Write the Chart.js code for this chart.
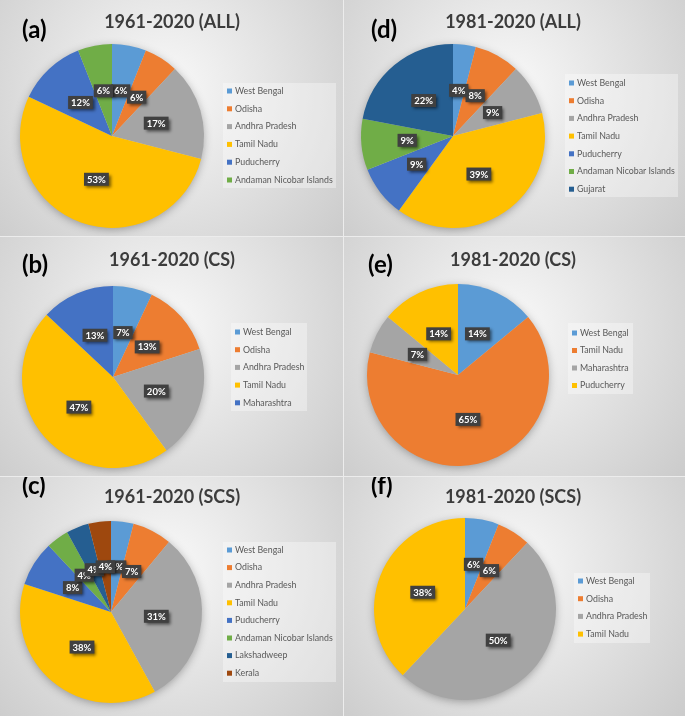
<!DOCTYPE html>
<html>
<head>
<meta charset="utf-8">
<script src="https://cdn.jsdelivr.net/npm/chart.js@4.4.1/dist/chart.umd.min.js"></script>
<style>
  html, body { margin: 0; padding: 0; background: #ffffff; }
  #wrap { position: relative; width: 685px; height: 716px; overflow: hidden; background: #ececec; }
  .panel { position: absolute; }
  canvas { display: block; }
</style>
</head>
<body>
<div id="wrap">
  <div class="panel" style="left:0;top:0"><canvas id="pA" width="343" height="236"></canvas></div>
  <div class="panel" style="left:344px;top:0"><canvas id="pD" width="341" height="236"></canvas></div>
  <div class="panel" style="left:0;top:237px"><canvas id="pB" width="343" height="239"></canvas></div>
  <div class="panel" style="left:344px;top:237px"><canvas id="pE" width="341" height="239"></canvas></div>
  <div class="panel" style="left:0;top:477px"><canvas id="pC" width="343" height="239"></canvas></div>
  <div class="panel" style="left:344px;top:477px"><canvas id="pF" width="341" height="239"></canvas></div>
</div>
<script>
// Palette Excel par défaut (ordre des séries)
const palette = ["#5B9BD5", "#ED7D31", "#A5A5A5", "#FFC000", "#4472C4", "#70AD47", "#255E91", "#9E480E"];

// --- DONNÉES ---
// (a) 1961-2020 (ALL)
const labelsA = ["West Bengal", "Odisha", "Andhra Pradesh", "Tamil Nadu", "Puducherry", "Andaman Nicobar Islands"];
const valuesA = [6, 6, 17, 53, 12, 6];
// (b) 1961-2020 (CS)
const labelsB = ["West Bengal", "Odisha", "Andhra Pradesh", "Tamil Nadu", "Maharashtra"];
const valuesB = [7, 13, 20, 47, 13];
// (c) 1961-2020 (SCS)
const labelsC = ["West Bengal", "Odisha", "Andhra Pradesh", "Tamil Nadu", "Puducherry", "Andaman Nicobar Islands", "Lakshadweep", "Kerala"];
const valuesC = [4, 7, 31, 38, 8, 4, 4, 4];
// (d) 1981-2020 (ALL)
const labelsD = ["West Bengal", "Odisha", "Andhra Pradesh", "Tamil Nadu", "Puducherry", "Andaman Nicobar Islands", "Gujarat"];
const valuesD = [4, 8, 9, 39, 9, 9, 22];
// (e) 1981-2020 (CS)
const labelsE = ["West Bengal", "Tamil Nadu", "Maharashtra", "Puducherry"];
const valuesE = [14, 65, 7, 14];
// (f) 1981-2020 (SCS)
const labelsF = ["West Bengal", "Odisha", "Andhra Pradesh", "Tamil Nadu"];
const valuesF = [6, 6, 50, 38];

// Plugin : fond dégradé, titre, étiquette (a)..(f), légende, étiquettes de valeurs
const panelPlugin = {
  id: "panel",
  beforeDraw(chart, args, o) {
    const ctx = chart.ctx, w = chart.width, h = chart.height;
    ctx.save();
    const g = ctx.createRadialGradient(w * 0.48, h * 0.38, 5, w * 0.48, h * 0.38, w * 0.72);
    g.addColorStop(0, "#f8f8f8");
    g.addColorStop(1, "#c8c8c8");
    ctx.fillStyle = g;
    ctx.fillRect(0, 0, w, h);
    // titre
    ctx.fillStyle = "#3c3c3c";
    ctx.font = "bold 18px Lato";
    ctx.textAlign = "center";
    ctx.textBaseline = "middle";
    ctx.fillText(o.title, o.titleX, o.titleY);
    // tag
    ctx.fillStyle = "#000000";
    ctx.font = "bold 24px Lato";
    ctx.textAlign = "left";
    ctx.fillText(o.tag, o.tagX, o.tagY);
    ctx.restore();
  },
  beforeDatasetsDraw(chart) {
    // ombre douce sous le camembert
    const arc = chart.getDatasetMeta(0).data[0];
    if (!arc) return;
    const ctx = chart.ctx;
    ctx.save();
    ctx.shadowColor = "rgba(0,0,0,0.35)";
    ctx.shadowBlur = 10;
    ctx.shadowOffsetY = 2;
    ctx.fillStyle = "#cccccc";
    ctx.beginPath();
    ctx.arc(arc.x, arc.y, arc.outerRadius - 1, 0, Math.PI * 2);
    ctx.fill();
    ctx.restore();
  },
  afterDatasetsDraw(chart) {
    const ctx = chart.ctx;
    const ds = chart.data.datasets[0];
    ctx.save();
    ctx.font = "bold 9.5px Lato";
    ctx.textAlign = "center";
    ctx.textBaseline = "middle";
    chart.getDatasetMeta(0).data.forEach((arc, i) => {
      const p = arc.tooltipPosition();
      const txt = ds.data[i] + "%";
      const tw = ctx.measureText(txt).width + 6;
      ctx.shadowColor = "rgba(0,0,0,0.55)";
      ctx.shadowBlur = 3;
      ctx.shadowOffsetX = 2;
      ctx.shadowOffsetY = 2;
      ctx.fillStyle = "#404040";
      ctx.fillRect(p.x - tw / 2, p.y - 6.5, tw, 13);
      ctx.shadowColor = "transparent";
      ctx.fillStyle = "#ffffff";
      ctx.fillText(txt, p.x, p.y + 0.5);
    });
    ctx.restore();
  },
  afterDraw(chart, args, o) {
    const ctx = chart.ctx;
    const L = o.legend;
    const ds = chart.data.datasets[0];
    ctx.save();
    ctx.fillStyle = "rgba(255,255,255,0.35)";
    ctx.fillRect(L.x, L.y, L.w, L.h);
    ctx.font = "8.8px Lato";
    ctx.textAlign = "left";
    ctx.textBaseline = "middle";
    chart.data.labels.forEach((lab, i) => {
      const y = L.y0 + i * L.step;
      ctx.fillStyle = ds.backgroundColor[i];
      ctx.fillRect(L.x + 4, y - 2.5, 5, 5);
      ctx.fillStyle = "#595959";
      ctx.fillText(lab, L.x + 12, y);
    });
    ctx.restore();
  },
};

function createPie(canvasId, labels, values, panel) {
  const canvas = document.getElementById(canvasId);
  const W = canvas.width, H = canvas.height;
  new Chart(canvas.getContext("2d"), {
    type: "pie",
    data: {
      labels: labels,
      datasets: [{
        data: values,
        backgroundColor: palette.slice(0, values.length),
        borderWidth: 0,
      }],
    },
    options: {
      responsive: false,
      animation: false,
      layout: {
        padding: {
          left: panel.cx - panel.r,
          top: panel.cy - panel.r,
          right: W - panel.cx - panel.r,
          bottom: H - panel.cy - panel.r,
        },
      },
      plugins: {
        legend: { display: false },
        tooltip: { enabled: false },
        panel: panel,
      },
    },
    plugins: [panelPlugin],
  });
}

createPie("pA", labelsA, valuesA, {
  cx: 112, cy: 136, r: 92, title: "1961-2020 (ALL)", titleX: 172, titleY: 22, tag: "(a)", tagX: 22, tagY: 30,
  legend: { x: 223, y: 83, w: 113, h: 105, y0: 91, step: 17.8 },
});
createPie("pD", labelsD, valuesD, {
  cx: 109, cy: 136, r: 92, title: "1981-2020 (ALL)", titleX: 169, titleY: 22, tag: "(d)", tagX: 27, tagY: 30,
  legend: { x: 221, y: 74, w: 113, h: 123, y0: 83, step: 17.7 },
});
createPie("pB", labelsB, valuesB, {
  cx: 113, cy: 140, r: 91, title: "1961-2020 (CS)", titleX: 172, titleY: 23, tag: "(b)", tagX: 22, tagY: 28,
  legend: { x: 231, y: 86, w: 76, h: 88, y0: 95, step: 17.7 },
});
createPie("pE", labelsE, valuesE, {
  cx: 114, cy: 138, r: 91, title: "1981-2020 (CS)", titleX: 169, titleY: 23, tag: "(e)", tagX: 24, tagY: 28,
  legend: { x: 224, y: 86, w: 65, h: 71, y0: 96, step: 17.5 },
});
createPie("pC", labelsC, valuesC, {
  cx: 111, cy: 135, r: 91, title: "1961-2020 (SCS)", titleX: 172, titleY: 20, tag: "(c)", tagX: 22, tagY: 9,
  legend: { x: 223, y: 65, w: 113, h: 140, y0: 73, step: 17.6 },
});
createPie("pF", labelsF, valuesF, {
  cx: 121, cy: 132, r: 91, title: "1981-2020 (SCS)", titleX: 169, titleY: 20, tag: "(f)", tagX: 27, tagY: 9,
  legend: { x: 230, y: 96, w: 76, h: 70, y0: 104, step: 17.7 },
});
</script>
</body>
</html>
